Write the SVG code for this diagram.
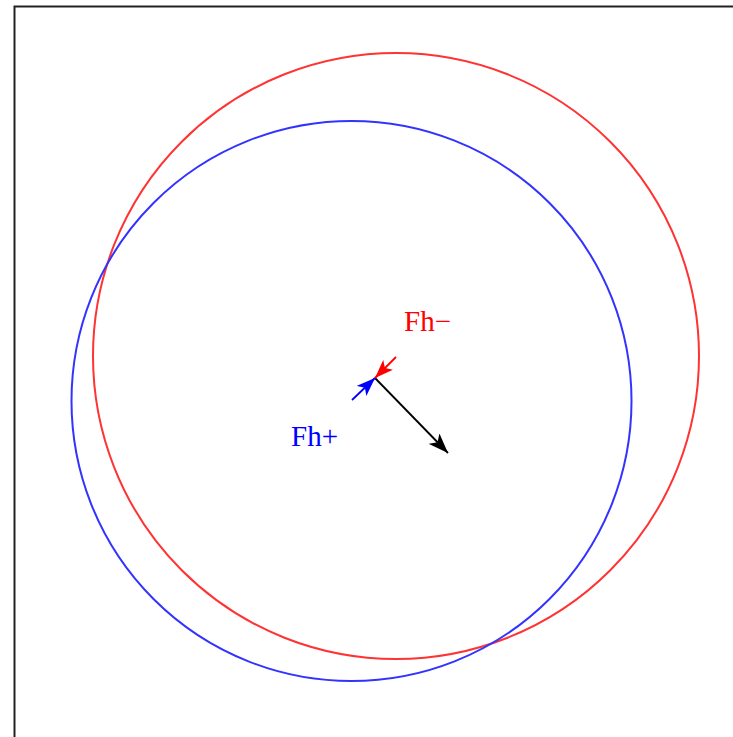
<svg xmlns="http://www.w3.org/2000/svg" width="733" height="737" viewBox="0 0 733 737">
<style>
.c{fill:none;stroke-width:2}
.t{font-family:"Liberation Serif",serif;font-size:29px}
</style>
<defs>
<marker id="mkK" viewBox="0 0 16 12" refX="16" refY="6" markerWidth="20" markerHeight="15" markerUnits="userSpaceOnUse" orient="auto">
<path d="M0,0 L16,6 L0,12 L4,6 Z" fill="#000"/>
</marker>
<marker id="mkR" viewBox="0 0 16 12" refX="16" refY="6" markerWidth="19" markerHeight="14" markerUnits="userSpaceOnUse" orient="auto">
<path d="M0,0 L16,6 L0,12 L4,6 Z" fill="#f00"/>
</marker>
<marker id="mkB" viewBox="0 0 16 12" refX="16" refY="6" markerWidth="19" markerHeight="14" markerUnits="userSpaceOnUse" orient="auto">
<path d="M0,0 L16,6 L0,12 L4,6 Z" fill="#00f"/>
</marker>
</defs>
<rect width="733" height="737" fill="#fff"/>
<path d="M14.5,737 V6.5 H733" fill="none" stroke="#222" stroke-width="2"/>
<g id="red-circle"><circle class="c" cx="396" cy="356" r="303" stroke="#f33"/></g>
<g id="blue-circle"><circle class="c" cx="351.5" cy="401" r="280" stroke="#33f"/></g>
<g id="connectors">
<line x1="375" y1="378" x2="448" y2="453" stroke="#000" stroke-width="1.8" marker-end="url(#mkK)"/>
<line x1="396" y1="357" x2="375" y2="378" stroke="#f00" stroke-width="1.8" marker-end="url(#mkR)"/>
<line x1="352" y1="400" x2="375" y2="378" stroke="#00f" stroke-width="1.8" marker-end="url(#mkB)"/>
</g>
<g id="label-fh-minus"><text class="t" x="404" y="331" fill="#f00" font-size="29">Fh−</text></g>
<g id="label-fh-plus"><text class="t" x="291" y="446" fill="#00f" font-size="29">Fh+</text></g>
</svg>
